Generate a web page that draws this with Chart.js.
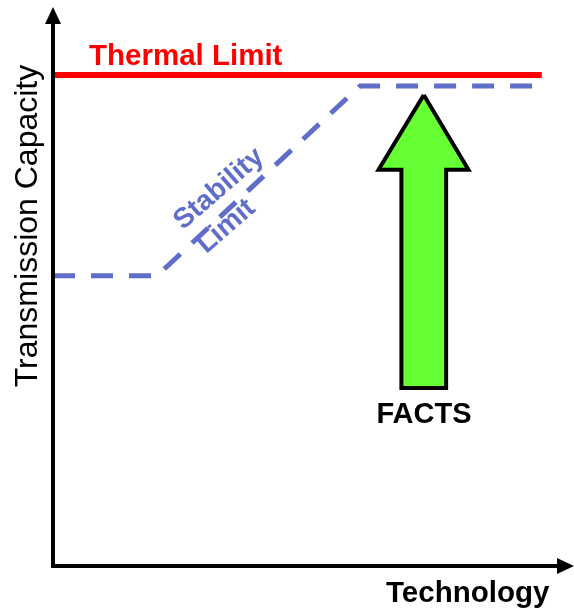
<!DOCTYPE html>
<html>
<head>
<meta charset="utf-8">
<script src="https://cdn.jsdelivr.net/npm/chart.js@4/dist/chart.umd.min.js"></script>
<style>
  html, body { margin: 0; padding: 0; background: #fff; }
  #wrap { width: 574px; height: 609px; position: relative; }
</style>
</head>
<body>
<div id="wrap"><canvas id="c" width="574" height="609"></canvas></div>
<script>
// Conceptual chart: capacity limits versus technology (0–100 arbitrary units)
const thermalX = [0, 94];
const thermalY = [88, 88];
const stabilityX = [0, 20, 59, 94];
const stabilityY = [52, 52, 86, 86];
// FACTS arrow outline (closed polygon, clockwise from tip)
const arrowX = [71.3, 79.9, 75.6, 75.6, 67.0, 67.0, 62.6, 71.3];
const arrowY = [84.4, 71.0, 71.0, 31.9, 31.9, 71.0, 71.0, 84.4];
const labels = {
  thermal: 'Thermal Limit',
  stability: ['Stability', 'Limit'],
  facts: 'FACTS',
  xTitle: 'Technology',
  yTitle: 'Transmission Capacity'
};

const zip = (xs, ys) => xs.map((x, i) => ({ x, y: ys[i] }));
const FONT = '"Liberation Sans", Arial, sans-serif';
const BLUE = 'rgb(95,110,200)';

// Axes with arrowheads, drawn along the chart area edges
const axesPlugin = {
  id: 'arrowAxes',
  afterDatasetsDraw(chart) {
    const { ctx, chartArea: a } = chart;
    ctx.save();
    ctx.strokeStyle = '#000';
    ctx.fillStyle = '#000';
    ctx.lineWidth = 4;
    ctx.lineCap = 'butt';
    ctx.beginPath();
    ctx.moveTo(a.left, a.top + 14);
    ctx.lineTo(a.left, a.bottom);
    ctx.lineTo(a.right - 14, a.bottom);
    ctx.stroke();
    // y arrowhead
    ctx.beginPath();
    ctx.moveTo(a.left, a.top - 1);
    ctx.lineTo(a.left - 8, a.top + 16);
    ctx.lineTo(a.left + 8, a.top + 16);
    ctx.closePath();
    ctx.fill();
    // x arrowhead
    ctx.beginPath();
    ctx.moveTo(a.right + 1, a.bottom);
    ctx.lineTo(a.right - 16, a.bottom - 8);
    ctx.lineTo(a.right - 16, a.bottom + 8);
    ctx.closePath();
    ctx.fill();
    ctx.restore();
  }
};

// Text annotations
const textPlugin = {
  id: 'annotations',
  beforeDatasetsDraw(chart) {
    const { ctx } = chart;
    ctx.save();
    ctx.fillStyle = BLUE;
    ctx.font = 'bold 28px ' + FONT;
    ctx.translate(219, 189);
    ctx.rotate(-41 * Math.PI / 180);
    const w = ctx.measureText(labels.stability[0]).width;
    ctx.textAlign = 'left';
    ctx.textBaseline = 'middle';
    ctx.fillText(labels.stability[0], -w / 2, 0);
    ctx.fillText(labels.stability[1], -w / 2 + 2, 33);
    ctx.restore();
  },
  afterDraw(chart) {
    const { ctx } = chart;
    ctx.save();
    ctx.textBaseline = 'alphabetic';
    // Thermal limit label
    ctx.fillStyle = '#ff0000';
    ctx.font = 'bold 29.5px ' + FONT;
    ctx.textAlign = 'left';
    ctx.fillText(labels.thermal, 89, 65);
    // FACTS label
    ctx.fillStyle = '#000';
    ctx.font = 'bold 29px ' + FONT;
    ctx.textAlign = 'center';
    ctx.fillText(labels.facts, 424, 423);
    // x title
    ctx.font = 'bold 29.5px ' + FONT;
    ctx.textAlign = 'left';
    ctx.fillText(labels.xTitle, 386, 602);
    // y title
    ctx.font = '32px ' + FONT;
    ctx.textAlign = 'center';
    ctx.translate(37, 226);
    ctx.rotate(-Math.PI / 2);
    ctx.fillText(labels.yTitle, 0, 0);
    ctx.restore();
  }
};

new Chart(document.getElementById('c'), {
  type: 'line',
  data: {
    datasets: [
      {
        label: 'FACTS',
        data: zip(arrowX, arrowY),
        borderColor: '#000',
        borderWidth: 4,
        borderJoinStyle: 'miter',
        backgroundColor: '#66ff33',
        fill: 'shape',
        pointRadius: 0,
        tension: 0,
        order: 3
      },
      {
        label: 'Thermal Limit',
        data: zip(thermalX, thermalY),
        borderColor: '#ff0000',
        borderWidth: 6,
        borderCapStyle: 'butt',
        pointRadius: 0,
        fill: false,
        order: 1
      },
      {
        label: 'Stability Limit',
        data: zip(stabilityX, stabilityY),
        borderColor: BLUE,
        borderWidth: 5,
        borderDash: [22, 16],
        borderCapStyle: 'butt',
        borderJoinStyle: 'round',
        pointRadius: 0,
        fill: false,
        order: 2
      }
    ]
  },
  options: {
    responsive: false,
    animation: false,
    layout: { padding: { left: 53, right: 1, top: 8, bottom: 43 } },
    plugins: { legend: { display: false }, tooltip: { enabled: false } },
    scales: {
      x: { type: 'linear', min: 0, max: 100, display: false },
      y: { type: 'linear', min: 0, max: 100, display: false }
    }
  },
  plugins: [axesPlugin, textPlugin]
});
</script>
</body>
</html>
